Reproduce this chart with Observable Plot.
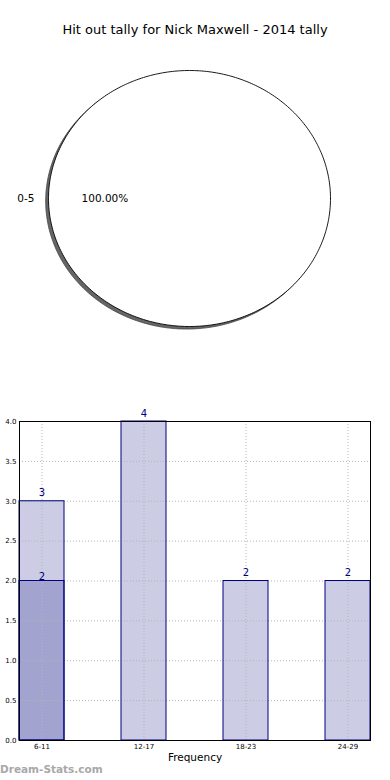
<!DOCTYPE html>
<html>
<head>
<meta charset="utf-8">
<script src="https://cdn.jsdelivr.net/npm/d3@7"></script>
<script src="https://cdn.jsdelivr.net/npm/@observablehq/plot@0.6"></script>
<style>
  html, body { margin: 0; padding: 0; background: #fff; }
  body { width: 390px; height: 780px; position: relative; overflow: hidden; font-family: "DejaVu Sans", sans-serif; }
  .abs { position: absolute; }
  #title { top: 22px; left: 0; width: 390px; text-align: center; font-size: 13px; line-height: 16px; color: #000; }
  #pie { top: 40px; left: 0; }
  #bars { top: 400px; left: 0; }
  #wm { top: 762px; left: 0; font-size: 10.5px; font-weight: bold; color: #a8a8a8; line-height: 14px; }
</style>
</head>
<body>
<div id="title" class="abs">Hit out tally for Nick Maxwell - 2014 tally</div>
<div id="pie" class="abs"></div>
<div id="bars" class="abs"></div>
<div id="wm" class="abs">Dream-Stats.com</div>
<script>
// ---- Data ----
const pieLabels = ["0-5"];
const pieValues = [1];

const binLabels = ["6-11", "12-17", "18-23", "24-29"];
const binCounts = [3, 4, 2, 2];

const overlayLabels = ["6-11"];
const overlayCounts = [2];

const yTicks = [0, 0.5, 1, 1.5, 2, 2.5, 3, 3.5, 4];

// ---- Pie (matplotlib-style: start at 0°, counter-clockwise) ----
const total = d3.sum(pieValues);
let acc = 0;
const slices = pieValues.map((v, i) => {
  const a0 = acc / total * 2 * Math.PI;
  acc += v;
  const a1 = acc / total * 2 * Math.PI;
  return {label: pieLabels[i], value: v, a0, a1, mid: (a0 + a1) / 2, pct: v / total * 100};
});
const outline = [];
slices.forEach((s, i) => {
  const n = Math.max(2, Math.ceil((s.a1 - s.a0) / (Math.PI / 180)));
  for (let k = 0; k <= n; k++) {
    const t = s.a0 + (s.a1 - s.a0) * k / n;
    outline.push({slice: i, x: Math.cos(t), y: Math.sin(t)});
  }
});
const shadowOff = -0.02;
const pie = Plot.plot({
  width: 390, height: 320,
  marginTop: 30, marginBottom: 34, marginLeft: 48, marginRight: 60,
  x: {domain: [-1, 1], axis: null},
  y: {domain: [-1, 1], axis: null},
  style: {fontFamily: "DejaVu Sans", background: "transparent", overflow: "visible"},
  marks: [
    Plot.line(outline, {x: d => d.x + shadowOff, y: d => d.y + shadowOff, z: "slice", fill: "#666", stroke: "#444", strokeWidth: 0.8}),
    Plot.line(outline, {x: "x", y: "y", z: "slice", fill: "white", stroke: "black", strokeWidth: 0.9}),
    Plot.text(slices, {x: d => 0.6 * Math.cos(d.mid), y: d => 0.6 * Math.sin(d.mid), text: d => d.pct.toFixed(2) + "%", fontSize: 10.5, fill: "black", textAnchor: "middle"}),
    Plot.text(slices, {x: d => 1.1 * Math.cos(d.mid), y: d => 1.1 * Math.sin(d.mid), text: "label", fontSize: 10.5, fill: "black", textAnchor: "end"})
  ]
});
document.getElementById("pie").appendChild(pie);

// ---- Bars ----
const bins = binLabels.map((b, i) => ({bin: b, count: binCounts[i]}));
const overlay = overlayLabels.map((b, i) => ({bin: b, count: overlayCounts[i]}));
const navy = "#000080";
const gridStyle = {stroke: "#b4b4b4", strokeDasharray: "1,2", strokeWidth: 1};

const bars = Plot.plot({
  width: 390, height: 370,
  marginTop: 21, marginBottom: 30, marginLeft: 19, marginRight: 20,
  x: {domain: binLabels, paddingInner: 0.56, paddingOuter: 0, label: null},
  y: {domain: [0, 4], label: null},
  style: {fontFamily: "DejaVu Sans", background: "transparent", overflow: "visible"},
  marks: [
    Plot.barY(bins, {x: "bin", y: "count", fill: "#cccce5"}),
    Plot.barY(overlay, {x: "bin", y: "count", fill: "#a3a3cf"}),
    Plot.ruleY(yTicks.slice(1, -1), gridStyle),
    Plot.ruleX(binLabels, gridStyle),
    Plot.barY(bins, {x: "bin", y: "count", fill: "none", stroke: navy, strokeWidth: 1}),
    Plot.barY(overlay, {x: "bin", y: "count", fill: "none", stroke: navy, strokeWidth: 1}),
    Plot.text(bins, {x: "bin", y: "count", text: d => String(d.count), dy: -8, fill: navy, fontSize: 10}),
    Plot.text(overlay, {x: "bin", y: "count", text: d => String(d.count), dy: -4, fill: navy, fontSize: 10}),
    Plot.frame({stroke: "black", strokeWidth: 1}),
    Plot.axisY({ticks: yTicks, tickFormat: d3.format(".1f"), tickSize: 0, tickPadding: 3, fontSize: 7, fill: "black", label: null}),
    Plot.axisX({tickSize: 0, tickPadding: 4, fontSize: 7, fill: "black", label: null}),
    Plot.text(["Frequency"], {frameAnchor: "bottom", dy: 20, fontSize: 10.5, fill: "black"})
  ]
});
document.getElementById("bars").appendChild(bars);
</script>
</body>
</html>
